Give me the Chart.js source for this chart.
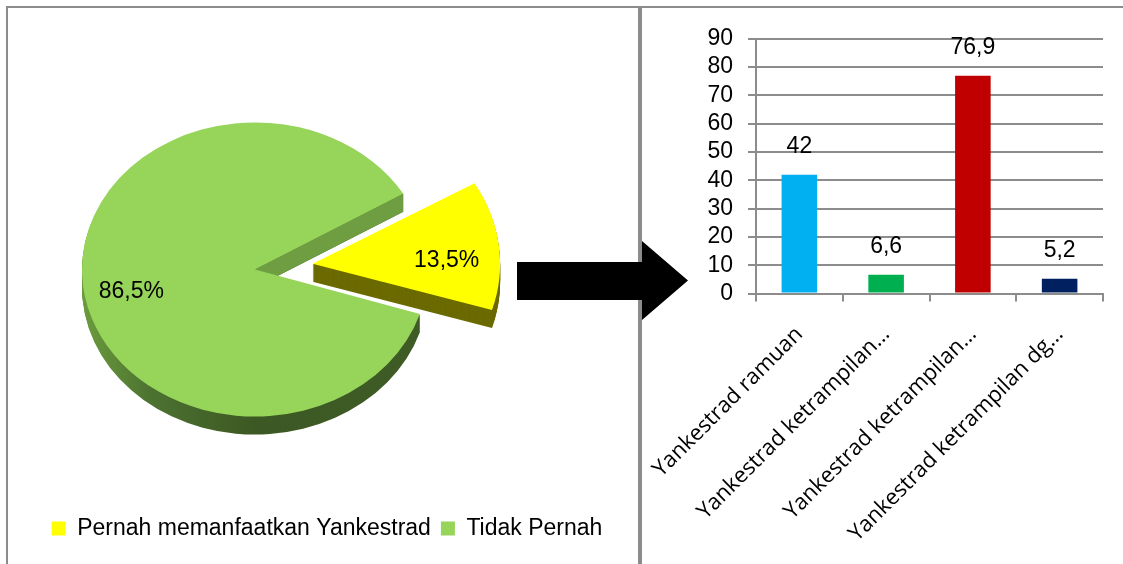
<!DOCTYPE html>
<html>
<head>
<meta charset="utf-8">
<script src="https://cdn.jsdelivr.net/npm/chart.js@4.4.1/dist/chart.umd.min.js"></script>
<style>
  html, body { margin: 0; padding: 0; background: #fff; width: 1123px; height: 564px; overflow: hidden; }
  .panel { position: absolute; border: 2px solid #8c8c8c; box-sizing: border-box; }
  #leftPanel { left: 6px; top: 6px; width: 634px; height: 600px; }
  #rightPanel { left: 640px; top: 6px; width: 500px; height: 600px; }
  canvas { position: absolute; }
  #pie { left: 12px; top: 32px; }
  #bar { left: 645px; top: 10px; }
  #arrow {
    position: absolute; left: 517px; top: 241px; width: 171px; height: 79px; background: #000;
    clip-path: polygon(0 21px, 125px 21px, 125px 0, 171px 39.5px, 125px 79px, 125px 59px, 0 59px);
  }
</style>
</head>
<body>
<div class="panel" id="leftPanel"></div>
<div class="panel" id="rightPanel"></div>
<canvas id="pie" width="630" height="518"></canvas>
<canvas id="bar" width="478" height="554"></canvas>
<div id="arrow"></div>

<script>
// pie data
const pieLabels = ['Pernah memanfaatkan Yankestrad', 'Tidak Pernah'];
const pieValues = [13.5, 86.5];
const pieColors = ['#ffff00', '#96d45a'];
const pieSideColors = ['#6b6a00', '#3d5924'];

// bar data
const barLabels = ['Yankestrad ramuan', 'Yankestrad ketrampilan…', 'Yankestrad ketrampilan…', 'Yankestrad ketrampilan dg…'];
const barValues = [42, 6.6, 76.9, 5.2];
const barColors = ['#00b0f0', '#00b050', '#c00000', '#002060'];
const yMin = 0;
const yMax = 90;
const yStep = 10;

const GRID = '#8c8c8c';
const TILT = 0.85;  // vertical squash of the pie
const DEPTH = 18;   // thickness of the pie in px

const fmt = v => String(v).replace('.', ',');

// same geometry the ArcElement uses when it draws an exploded slice
function sliceGeom(el) {
  const p = el.getProps(['x', 'y', 'startAngle', 'endAngle', 'outerRadius', 'circumference']);
  const t = (el.options.offset || 0) / 4;
  const mid = (p.startAngle + p.endAngle) / 2;
  const fix = 1 - Math.sin(Math.min(Math.PI, p.circumference));
  const r = p.outerRadius + t * fix;
  const alpha = p.endAngle - p.startAngle;
  const beta = Math.max(0.001, alpha * r - t * fix / Math.PI) / r;
  return {
    cx: p.x + Math.cos(mid) * t,
    cy: p.y + Math.sin(mid) * t,
    r,
    a0: p.startAngle + (alpha - beta) / 2,
    a1: p.endAngle - (alpha - beta) / 2,
    mid
  };
}

function slicePath(ctx, g, dy) {
  ctx.beginPath();
  ctx.moveTo(g.cx, g.cy + dy);
  ctx.arc(g.cx, g.cy + dy, g.r, g.a0, g.a1);
  ctx.closePath();
}

// squashes the pie and draws its sides before the top faces
const pie3d = {
  id: 'pie3d',
  beforeDatasetDraw(chart, args) {
    const ctx = chart.ctx;
    const arcs = args.meta.data;
    const cy0 = arcs[0].y;
    ctx.save();
    ctx.translate(0, cy0);
    ctx.scale(1, TILT);
    ctx.translate(0, -cy0);
    const step = 1 / TILT;
    [1, 0].forEach(i => {
      const g = sliceGeom(arcs[i]);
      let fill = pieSideColors[i];
      if (i === 1) {
        fill = ctx.createLinearGradient(g.cx - g.r, 0, g.cx + g.r, 0);
        fill.addColorStop(0, '#6c9c3e');
        fill.addColorStop(0.2, '#4c7230');
        fill.addColorStop(0.5, '#3c5824');
        fill.addColorStop(1, '#3f5c26');
      }
      ctx.fillStyle = fill;
      for (let d = DEPTH; d >= 1; d--) {
        slicePath(ctx, g, d * step);
        ctx.fill();
      }
      if (i === 1) {
        // cut face of the big slice seen through the gap
        const ex = g.cx + Math.cos(g.a1) * g.r;
        const ey = g.cy + Math.sin(g.a1) * g.r;
        const h = DEPTH * step;
        ctx.beginPath();
        ctx.moveTo(g.cx, g.cy);
        ctx.lineTo(ex, ey);
        ctx.lineTo(ex, ey + h);
        ctx.lineTo(g.cx, g.cy + h);
        ctx.closePath();
        ctx.fillStyle = '#6f9d41';
        ctx.fill();
      }
    });
  },
  afterDatasetDraw(chart) {
    chart.ctx.restore();
  },
  afterDatasetsDraw(chart) {
    const ctx = chart.ctx;
    const arcs = chart.getDatasetMeta(0).data;
    const cy0 = arcs[0].y;
    ctx.save();
    ctx.font = '23px "Liberation Sans"';
    ctx.fillStyle = '#000';
    ctx.textAlign = 'center';
    ctx.textBaseline = 'middle';
    arcs.forEach((el, i) => {
      const g = sliceGeom(el);
      const px = g.cx + Math.cos(g.mid) * g.r * 0.72;
      const py = g.cy + Math.sin(g.mid) * g.r * 0.72;
      // labels sit a little lower, on the slanted face
      ctx.fillText(fmt(pieValues[i]) + '%', px, cy0 + (py - cy0) * TILT + 10);
    });
    ctx.restore();
  }
};

new Chart(document.getElementById('pie'), {
  type: 'pie',
  data: {
    labels: pieLabels,
    datasets: [{
      data: pieValues,
      backgroundColor: pieColors,
      borderWidth: 0,
      offset: [232, 0],
      radius: 173,
      clip: false
    }]
  },
  options: {
    responsive: false,
    animation: false,
    rotation: 59,
    plugins: {
      legend: {
        position: 'bottom',
        labels: {
          boxWidth: 14,
          boxHeight: 14,
          padding: 10,
          color: '#000',
          font: { family: 'Liberation Sans', size: 23 }
        }
      },
      // empty title on the right only reserves room, so the pie sits left of the legend centre
      title: { display: true, position: 'right', text: '', font: { size: 10 }, padding: 66 },
      tooltip: { enabled: false }
    }
  },
  plugins: [pie3d]
});

const barValueLabels = {
  id: 'barValueLabels',
  afterDatasetsDraw(chart) {
    const ctx = chart.ctx;
    ctx.save();
    ctx.font = '23px "Liberation Sans"';
    ctx.fillStyle = '#000';
    ctx.textAlign = 'center';
    ctx.textBaseline = 'middle';
    chart.getDatasetMeta(0).data.forEach((bar, i) => {
      ctx.fillText(fmt(barValues[i]), bar.x, bar.y - 28);
    });
    ctx.restore();
  }
};

new Chart(document.getElementById('bar'), {
  type: 'bar',
  data: {
    labels: barLabels,
    datasets: [{
      data: barValues,
      backgroundColor: barColors,
      borderWidth: 0,
      barPercentage: 0.41,
      categoryPercentage: 1
    }]
  },
  options: {
    responsive: false,
    animation: false,
    layout: { padding: { top: 25, right: 20, left: 0, bottom: 0 } },
    plugins: { legend: { display: false }, tooltip: { enabled: false } },
    scales: {
      x: {
        grid: { drawOnChartArea: false, color: GRID, lineWidth: 2, tickLength: 8 },
        border: { color: GRID, width: 2 },
        ticks: {
          color: '#000',
          font: { family: 'Open Sans', size: 22 },
          minRotation: 45,
          maxRotation: 45,
          autoSkip: false,
          padding: 20
        },
        afterFit(scale) {
          scale.height = 270.5;
          // long slanted labels may run left past the axis, as in the original
          scale.paddingLeft = 0;
          scale.paddingRight = 0;
        }
      },
      y: {
        min: yMin,
        max: yMax,
        ticks: {
          stepSize: yStep,
          autoSkip: false,
          color: '#000',
          font: { family: 'Liberation Sans', size: 23 },
          padding: 15
        },
        grid: { color: GRID, lineWidth: 2, tickLength: 8 },
        border: { color: GRID, width: 2 },
        afterFit(scale) { scale.width = 111; }
      }
    }
  },
  plugins: [barValueLabels]
});
</script>
</body>
</html>
